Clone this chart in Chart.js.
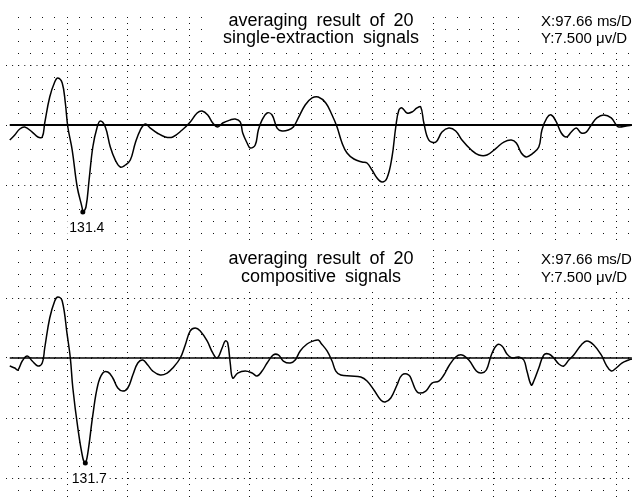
<!DOCTYPE html>
<html>
<head>
<meta charset="utf-8">
<script src="https://cdn.jsdelivr.net/npm/chart.js@4.4.1/dist/chart.umd.min.js"></script>
<style>
  html, body { margin: 0; padding: 0; background: #fff; }
  #wrap { position: relative; width: 634px; height: 498px; overflow: hidden; }
  canvas { position: absolute; left: 0; }
  #top { top: 0; }
  #bottom { top: 248px; }
</style>
</head>
<body>
<div id="wrap">
  <canvas id="top" width="634" height="248"></canvas>
  <canvas id="bottom" width="634" height="250"></canvas>
</div>
<script>
// time in ms, amplitude in µV
const topTime = [
  6, 14, 22, 30, 42, 51, 58, 62, 70, 78,
  83, 90, 95, 99, 106, 114, 122, 123, 128, 133,
  139, 146, 151, 159, 167, 175, 183, 191, 199, 207,
  215, 223, 231, 242, 255, 267, 282, 295, 306, 314,
  323, 331, 339, 347, 359, 367, 375, 379, 386, 391,
  399, 404, 410, 418, 426, 434, 442, 452, 460, 468,
  479, 490, 500, 512, 522, 530, 538, 546, 557, 570,
  578, 586, 594, 602, 610, 618, 624, 629, 634, 642,
  650, 658, 664, 669, 677, 688, 698, 709, 720, 730,
  745, 757, 770, 785, 797, 809, 817, 825, 833, 842,
  853, 858, 866, 873, 881, 889, 897, 905, 913, 921,
  929, 937, 946, 957, 969, 977, 981, 993, 1002
];
const topSignal = [
  -1.88, -1.25, -0.5, -0.25, -0.88, -1.5, -1.5, 0.25, 3.5, 5.38,
  5.88, 5.25, 2.75, -0.25, -3.13, -7.75, -10.38, -10.88, -10.25, -6.88,
  -2.75, -0.25, 0.5, -0.25, -2.75, -4.38, -5.25, -5.0, -4.38, -2.25,
  -0.63, 0.13, -0.38, -1.0, -1.5, -1.5, -0.63, 0.38, 1.5, 1.75,
  1.25, 0.25, -0.25, 0.25, 0.63, 0.75, 0.38, -1.0, -2.25, -2.88,
  -2.5, -0.63, 0.63, 1.5, 1.25, -0.38, -0.75, -0.63, -0.25, 0.88,
  2.5, 3.38, 3.5, 2.75, 1.25, -0.25, -2.25, -3.5, -4.25, -4.63,
  -4.75, -5.63, -6.63, -7.13, -6.63, -4.0, -0.25, 1.88, 2.13, 1.5,
  1.63, 2.13, 2.25, 0.25, -1.88, -2.13, -0.88, -0.38, -0.75, -1.88,
  -3.13, -3.75, -3.75, -2.88, -2.13, -1.88, -2.25, -3.5, -4.0, -3.63,
  -2.75, -0.63, 0.88, 1.25, 0.38, -1.0, -1.5, -0.88, -0.38, -1.0,
  -0.88, 0, 0.88, 1.25, 0.88, 0, -0.25, -0.13, 0
];
const bottomTime = [
  6, 14, 19, 26, 34, 42, 51, 58, 62, 70,
  78, 83, 90, 98, 103, 107, 115, 123, 127, 131,
  139, 147, 155, 163, 171, 179, 187, 195, 203, 211,
  219, 227, 235, 247, 258, 267, 279, 287, 295, 303,
  311, 322, 331, 338, 346, 351, 355, 359, 363, 371,
  383, 394, 402, 410, 418, 428, 436, 444, 455, 463,
  471, 482, 492, 500, 504, 514, 522, 528, 536, 552,
  568, 578, 589, 600, 607, 616, 626, 634, 645, 650,
  656, 661, 672, 682, 693, 701, 709, 720, 730, 741,
  753, 761, 769, 777, 786, 794, 802, 810, 821, 829,
  834, 841, 845, 853, 861, 869, 877, 885, 893, 901,
  909, 921, 930, 941, 953, 961, 969, 977, 986, 997,
  1002
];
const bottomSignal = [
  -1.0, -1.25, -1.5, -0.38, 0.25, -0.38, -1.0, -0.63, 1.25, 5.0,
  7.13, 7.63, 7.13, 2.88, 0, -3.75, -8.75, -12.5, -13.13, -11.88,
  -7.13, -3.38, -1.88, -1.75, -2.5, -3.75, -4.13, -3.75, -2.13, -0.63,
  -0.25, -0.88, -1.63, -2.13, -1.88, -1.25, 0, 1.63, 3.38, 3.75,
  3.38, 2.13, 0.63, 0, 1.25, 2.13, 1.88, -0.63, -2.5, -1.88,
  -1.63, -1.88, -2.25, -1.63, -0.63, 0.38, 0.38, -0.38, -0.63, -0.25,
  0.88, 1.75, 2.13, 2.25, 1.88, 0.88, -0.38, -1.63, -2.13, -2.25,
  -2.38, -2.88, -4.0, -5.25, -5.5, -5.0, -3.38, -2.13, -2.13, -2.88,
  -4.0, -4.38, -4.13, -3.13, -2.88, -2.13, -1.0, 0.13, 0.38, -0.25,
  -1.63, -1.88, -1.5, 0.38, 1.63, 1.5, 0.5, 0, 0.13, -0.25,
  -1.63, -3.38, -2.88, -1.25, 0.38, 0.5, 0, -0.75, -1.0, -0.25,
  0.38, 1.63, 2.13, 1.63, 0.38, -0.88, -1.63, -1.25, -0.63, -0.25,
  -0.13
];
const topTitle = ['averaging result of 20', 'single-extraction signals'];
const bottomTitle = ['averaging result of 20', 'compositive signals'];
const scaleText = ['X:97.66 ms/D', 'Y:7.500 μv/D'];
const peakText = ['131.4', '131.7'];

const msPerDiv = 97.66;
const uvPerDiv = 7.5;

// grid: 5 minor steps per division
const xTicks = [];
for (let k = 0; k <= 51; k++) xTicks.push(k * msPerDiv / 5);
const yMajor = [-2, -1, 0, 1].map(v => v * uvPerDiv);

const FONT = '"Liberation Sans", Arial, Helvetica, sans-serif';

function textPlugin(title, textY, peak, troughIdx) {
  return {
    id: 'panelText',
    afterDatasetsDraw(chart) {
      const ctx = chart.ctx;
      const trough = chart.getDatasetMeta(0).data[troughIdx];
      ctx.save();
      ctx.fillStyle = '#fff';
      ctx.fillRect(208, textY[0] - 18, 218, textY[1] - textY[0] + 23);
      ctx.fillRect(527, textY[0] - 18, 107, textY[1] - textY[0] + 23);

      ctx.fillStyle = '#000';
      ctx.textBaseline = 'alphabetic';
      ctx.font = '18px ' + FONT;
      ctx.textAlign = 'center';
      if ('wordSpacing' in ctx) ctx.wordSpacing = '4px';
      ctx.fillText(title[0], 321, textY[0]);
      ctx.fillText(title[1], 321, textY[1]);
      if ('wordSpacing' in ctx) ctx.wordSpacing = '0px';

      ctx.font = '15px ' + FONT;
      ctx.textAlign = 'left';
      ctx.fillText(scaleText[0], 541, textY[0]);
      ctx.fillText(scaleText[1], 541, textY[1]);

      // value under the main trough
      if (trough) {
        ctx.font = '14px ' + FONT;
        ctx.textAlign = 'center';
        const lx = trough.x + 4, ly = trough.y + 20;
        const w = ctx.measureText(peak).width;
        ctx.fillStyle = '#fff';
        ctx.fillRect(lx - w / 2 - 2, ly - 12, w + 4, 15);
        ctx.fillStyle = '#000';
        ctx.fillText(peak, lx, ly);
      }
      ctx.restore();
    }
  };
}

function makePanel(id, time, signal, yMin, yMax, pad, baseWidth, title, textY, peak) {
  const points = time.map((t, i) => ({ x: t, y: signal[i] }));
  const troughIdx = signal.indexOf(Math.min(...signal));
  return new Chart(document.getElementById(id), {
    type: 'line',
    data: {
      datasets: [
        {
          data: points,
          borderColor: '#000',
          borderWidth: 1.5,
          tension: 0.4,
          pointRadius: ctx => ctx.dataIndex === troughIdx ? 2.5 : 0,
          pointBackgroundColor: '#000',
          pointBorderWidth: 0
        },
        {
          data: [{ x: time[0], y: 0 }, { x: time[time.length - 1], y: 0 }],
          borderColor: '#000',
          borderWidth: baseWidth,
          pointRadius: 0
        }
      ]
    },
    options: {
      responsive: false,
      animation: false,
      layout: { autoPadding: false, padding: pad },
      plugins: { legend: { display: false }, tooltip: { enabled: false } },
      scales: {
        x: {
          type: 'linear',
          min: 0,
          max: 628 * msPerDiv / 61,
          afterBuildTicks: s => { s.ticks = xTicks.map(v => ({ value: v })); },
          ticks: { display: false },
          grid: {
            drawTicks: false,
            lineWidth: 1,
            color: ctx => ctx.index === 0 ? 'rgba(0,0,0,0)' : '#111'
          },
          border: { display: false, dash: ctx => ctx.index % 5 === 0 ? [1, 5] : [1, 11] }
        },
        y: {
          min: yMin,
          max: yMax,
          afterBuildTicks: s => { s.ticks = yMajor.filter(v => v > yMin && v < yMax).map(v => ({ value: v })); },
          ticks: { display: false },
          grid: { drawTicks: false, lineWidth: 1, color: '#111' },
          border: { display: false, dash: [1, 5.1] }
        }
      }
    },
    plugins: [textPlugin(title, textY, peak, troughIdx)]
  });
}

makePanel('top', topTime, topSignal, -14.875, 13.5,
  { left: 6, right: 0, top: 17, bottom: 4 }, 2, topTitle, [26, 43], peakText[0]);
makePanel('bottom', bottomTime, bottomSignal, -17.5, 13.5,
  { left: 6, right: 0, top: 2, bottom: 0 }, 1.5, bottomTitle, [16, 34], peakText[1]);
</script>
</body>
</html>
